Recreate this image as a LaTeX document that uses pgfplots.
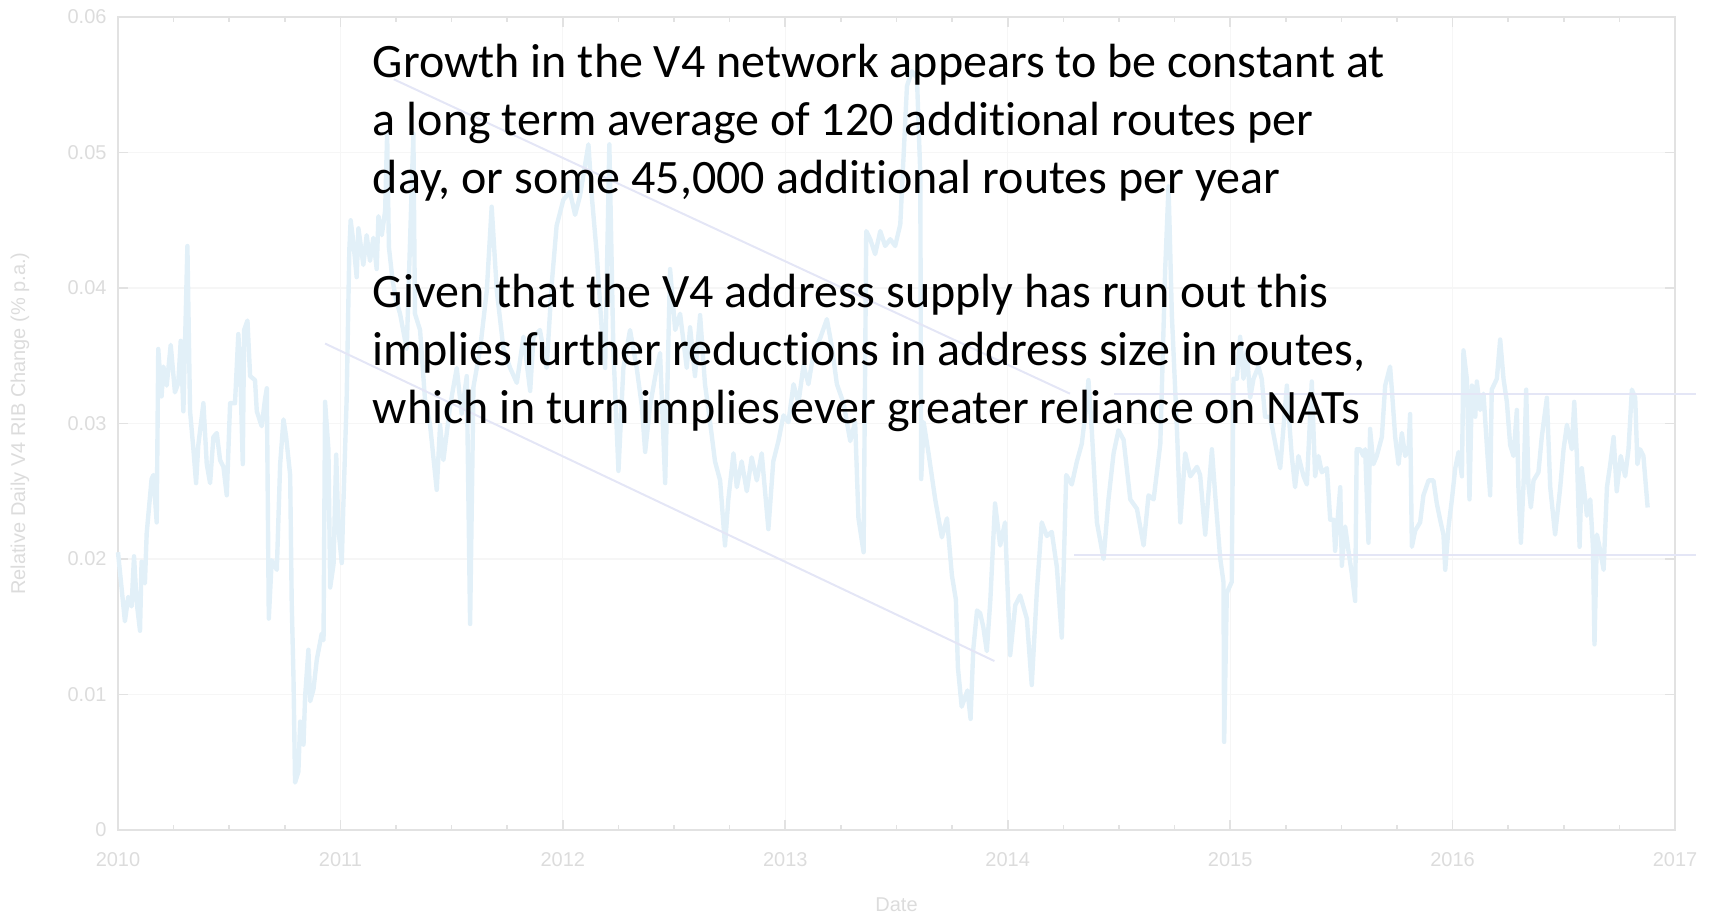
\documentclass[border=0pt]{standalone}
\usepackage{pgfplots}
\pgfplotsset{compat=1.18}
\usepackage{fontspec}
\setmainfont{Liberation Sans}
\newfontfamily\calibri[Ligatures=NoCommon]{Carlito}
\definecolor{axisgray}{RGB}{226,226,226}
\definecolor{labelgray}{RGB}{220,220,220}
\definecolor{seriesblue}{RGB}{226,240,248}
\definecolor{trendlav}{RGB}{228,230,246}
\definecolor{gridgray}{RGB}{246,246,246}

\pgfplotstableread{
x y
2010.000 0.0205
2010.031 0.0154
2010.046 0.0172
2010.061 0.0165
2010.072 0.0202
2010.084 0.0168
2010.099 0.0147
2010.106 0.0198
2010.121 0.0182
2010.129 0.0219
2010.151 0.0259
2010.159 0.0262
2010.174 0.0227
2010.181 0.0355
2010.196 0.0320
2010.204 0.0342
2010.219 0.0328
2010.237 0.0358
2010.256 0.0323
2010.271 0.0330
2010.282 0.0361
2010.294 0.0309
2010.312 0.0431
2010.324 0.0309
2010.339 0.0281
2010.351 0.0256
2010.361 0.0284
2010.384 0.0315
2010.399 0.0270
2010.414 0.0256
2010.429 0.0290
2010.444 0.0293
2010.459 0.0273
2010.474 0.0268
2010.489 0.0247
2010.504 0.0315
2010.526 0.0315
2010.541 0.0366
2010.549 0.0343
2010.561 0.0270
2010.567 0.0369
2010.582 0.0376
2010.594 0.0335
2010.616 0.0332
2010.624 0.0309
2010.646 0.0298
2010.661 0.0318
2010.669 0.0326
2010.678 0.0156
2010.691 0.0199
2010.714 0.0192
2010.729 0.0270
2010.744 0.0303
2010.756 0.0290
2010.774 0.0262
2010.781 0.0168
2010.789 0.0112
2010.796 0.0035
2010.811 0.0043
2010.819 0.0080
2010.834 0.0063
2010.841 0.0098
2010.856 0.0133
2010.864 0.0095
2010.879 0.0104
2010.894 0.0126
2010.916 0.0145
2010.924 0.0140
2010.931 0.0316
2010.946 0.0281
2010.954 0.0179
2010.969 0.0196
2010.981 0.0277
2010.991 0.0222
2011.006 0.0197
2011.013 0.0239
2011.028 0.0318
2011.040 0.0428
2011.046 0.0450
2011.058 0.0434
2011.073 0.0408
2011.081 0.0444
2011.103 0.0417
2011.118 0.0439
2011.133 0.0420
2011.148 0.0437
2011.163 0.0414
2011.171 0.0453
2011.186 0.0439
2011.201 0.0457
2011.210 0.0514
2011.218 0.0430
2011.235 0.0405
2011.252 0.0390
2011.268 0.0381
2011.298 0.0355
2011.328 0.0514
2011.335 0.0381
2011.358 0.0369
2011.380 0.0318
2011.403 0.0299
2011.433 0.0251
2011.448 0.0299
2011.463 0.0273
2011.493 0.0313
2011.523 0.0341
2011.545 0.0307
2011.568 0.0335
2011.583 0.0152
2011.598 0.0327
2011.628 0.0355
2011.658 0.0398
2011.680 0.0460
2011.703 0.0398
2011.733 0.0355
2011.763 0.0341
2011.793 0.0330
2011.823 0.0364
2011.853 0.0324
2011.868 0.0364
2011.897 0.0369
2011.927 0.0341
2011.950 0.0403
2011.972 0.0446
2012.002 0.0465
2012.032 0.0471
2012.055 0.0454
2012.077 0.0468
2012.100 0.0491
2012.115 0.0506
2012.130 0.0468
2012.152 0.0426
2012.175 0.0369
2012.190 0.0341
2012.209 0.0506
2012.227 0.0355
2012.250 0.0265
2012.272 0.0341
2012.302 0.0369
2012.332 0.0341
2012.355 0.0313
2012.370 0.0279
2012.392 0.0313
2012.422 0.0341
2012.437 0.0352
2012.460 0.0256
2012.482 0.0414
2012.505 0.0369
2012.527 0.0381
2012.557 0.0341
2012.572 0.0371
2012.594 0.0335
2012.617 0.0380
2012.639 0.0329
2012.662 0.0301
2012.684 0.0272
2012.707 0.0258
2012.729 0.0210
2012.744 0.0244
2012.767 0.0278
2012.782 0.0253
2012.804 0.0272
2012.827 0.0250
2012.849 0.0275
2012.872 0.0258
2012.894 0.0278
2012.924 0.0222
2012.946 0.0272
2012.969 0.0287
2012.992 0.0306
2013.014 0.0301
2013.037 0.0329
2013.059 0.0315
2013.082 0.0343
2013.104 0.0329
2013.127 0.0352
2013.157 0.0363
2013.187 0.0377
2013.209 0.0357
2013.232 0.0329
2013.262 0.0315
2013.292 0.0287
2013.314 0.0301
2013.329 0.0230
2013.352 0.0205
2013.364 0.0442
2013.382 0.0436
2013.404 0.0425
2013.427 0.0442
2013.449 0.0431
2013.472 0.0436
2013.494 0.0431
2013.517 0.0447
2013.532 0.0498
2013.547 0.0549
2013.569 0.0560
2013.592 0.0555
2013.607 0.0484
2013.611 0.0259
2013.622 0.0301
2013.644 0.0278
2013.674 0.0244
2013.704 0.0216
2013.727 0.0230
2013.749 0.0188
2013.767 0.0170
2013.776 0.0120
2013.793 0.0091
2013.819 0.0103
2013.833 0.0082
2013.845 0.0133
2013.862 0.0162
2013.876 0.0160
2013.890 0.0150
2013.906 0.0132
2013.922 0.0170
2013.943 0.0241
2013.966 0.0210
2013.988 0.0227
2014.011 0.0129
2014.034 0.0166
2014.056 0.0173
2014.086 0.0156
2014.108 0.0107
2014.131 0.0176
2014.153 0.0227
2014.176 0.0217
2014.198 0.0220
2014.221 0.0194
2014.243 0.0142
2014.263 0.0262
2014.288 0.0255
2014.311 0.0272
2014.333 0.0285
2014.353 0.0313
2014.363 0.0332
2014.378 0.0295
2014.401 0.0227
2014.431 0.0200
2014.453 0.0244
2014.476 0.0278
2014.498 0.0295
2014.521 0.0288
2014.551 0.0244
2014.581 0.0237
2014.611 0.0210
2014.633 0.0247
2014.656 0.0244
2014.686 0.0285
2014.708 0.0414
2014.723 0.0475
2014.738 0.0380
2014.761 0.0295
2014.776 0.0227
2014.798 0.0278
2014.821 0.0261
2014.851 0.0268
2014.865 0.0262
2014.888 0.0218
2014.918 0.0281
2014.933 0.0247
2014.955 0.0201
2014.970 0.0183
2014.973 0.0065
2014.985 0.0175
2015.007 0.0183
2015.015 0.0333
2015.030 0.0333
2015.045 0.0364
2015.060 0.0333
2015.075 0.0354
2015.090 0.0319
2015.105 0.0333
2015.127 0.0342
2015.142 0.0333
2015.157 0.0305
2015.180 0.0305
2015.210 0.0279
2015.225 0.0267
2015.255 0.0328
2015.262 0.0310
2015.277 0.0276
2015.292 0.0253
2015.307 0.0276
2015.330 0.0261
2015.345 0.0255
2015.367 0.0331
2015.382 0.0261
2015.397 0.0276
2015.412 0.0264
2015.435 0.0267
2015.450 0.0229
2015.465 0.0229
2015.472 0.0206
2015.495 0.0253
2015.502 0.0195
2015.517 0.0224
2015.532 0.0206
2015.547 0.0189
2015.562 0.0169
2015.569 0.0281
2015.584 0.0281
2015.599 0.0276
2015.607 0.0281
2015.622 0.0212
2015.629 0.0296
2015.644 0.0270
2015.659 0.0276
2015.682 0.0290
2015.697 0.0328
2015.719 0.0342
2015.727 0.0325
2015.742 0.0290
2015.757 0.0270
2015.772 0.0293
2015.787 0.0276
2015.802 0.0281
2015.809 0.0307
2015.817 0.0209
2015.832 0.0221
2015.854 0.0227
2015.869 0.0247
2015.892 0.0258
2015.914 0.0258
2015.929 0.0241
2015.944 0.0229
2015.959 0.0218
2015.967 0.0192
2015.982 0.0224
2015.997 0.0244
2016.012 0.0267
2016.027 0.0279
2016.042 0.0261
2016.049 0.0354
2016.064 0.0333
2016.076 0.0244
2016.087 0.0328
2016.102 0.0305
2016.109 0.0331
2016.124 0.0310
2016.139 0.0322
2016.154 0.0284
2016.169 0.0247
2016.176 0.0325
2016.199 0.0333
2016.214 0.0362
2016.229 0.0333
2016.244 0.0316
2016.259 0.0284
2016.274 0.0276
2016.289 0.0310
2016.296 0.0253
2016.307 0.0212
2016.319 0.0255
2016.331 0.0325
2016.341 0.0255
2016.352 0.0238
2016.364 0.0258
2016.386 0.0264
2016.401 0.0290
2016.424 0.0319
2016.439 0.0253
2016.461 0.0218
2016.484 0.0253
2016.499 0.0281
2016.514 0.0299
2016.536 0.0281
2016.547 0.0316
2016.559 0.0276
2016.571 0.0209
2016.581 0.0267
2016.604 0.0232
2016.619 0.0244
2016.631 0.0209
2016.638 0.0137
2016.649 0.0218
2016.664 0.0206
2016.679 0.0192
2016.694 0.0253
2016.709 0.0270
2016.724 0.0290
2016.738 0.0250
2016.756 0.0276
2016.776 0.0261
2016.791 0.0281
2016.806 0.0325
2016.821 0.0319
2016.831 0.0270
2016.843 0.0281
2016.858 0.0276
2016.877 0.0238
}\ribdata

\begin{document}
\begin{tikzpicture}
\begin{axis}[
  scale only axis, width=778.5pt, height=406.5pt,
  xmin=2010, xmax=2017, ymin=0, ymax=0.06,
  scaled y ticks=false, scaled x ticks=false,
  xtick={2010,2011,2012,2013,2014,2015,2016,2017},
  xticklabels={2010,2011,2012,2013,2014,2015,2016,2017},
  minor x tick num=3,
  ytick={0,0.01,0.02,0.03,0.04,0.05,0.06},
  yticklabels={0,0.01,0.02,0.03,0.04,0.05,0.06},
  tick align=inside,
  major tick length=5pt, minor tick length=2.5pt,
  axis line style={axisgray, line width=1pt},
  tick style={axisgray, line width=0.8pt},
  grid=major, major grid style={gridgray, line width=0.6pt},
  ticklabel style={font=\fontsize{10}{12}\selectfont, text=labelgray},
  xticklabel style={yshift=-7.6pt},
  yticklabel style={xshift=-2.2pt},
  xlabel={Date}, ylabel={Relative Daily V4 RIB Change (\% p.a.)},
  label style={font=\fontsize{10}{12}\selectfont, text=labelgray, inner sep=0pt},
  xlabel style={at={(axis description cs:0.5,-0.0923)}, anchor=center},
  ylabel style={at={(axis description cs:-0.0630,0.5)}, anchor=center},
  clip=false,
]
\addplot[seriesblue, line width=2.2pt, line join=round, no markers] table[x=x, y=y] {\ribdata};
\addplot[trendlav, line width=1pt, no markers] coordinates {(2011.24,0.0554) (2014.28,0.0322)};
\addplot[trendlav, line width=1pt, no markers] coordinates {(2010.931,0.0359) (2013.94,0.01247)};
\addplot[trendlav, line width=1pt, no markers] coordinates {(2014.48,0.0322) (2017.094,0.0322)};
\addplot[trendlav, line width=1pt, no markers] coordinates {(2014.30,0.0203) (2017.094,0.0203)};
\begin{scope}[every node/.style={anchor=base west, inner sep=0pt, font=\calibri\fontsize{24}{28.75}\selectfont, text=black}]
\node at (rel axis cs:0.1635,0.925) {Growth in the V4 network appears to be constant at};
\node at (rel axis cs:0.1635,0.8542) {a long term average of 120 additional routes per};
\node at (rel axis cs:0.1635,0.7835) {day, or some 45,000 additional routes per year};
\node at (rel axis cs:0.1635,0.6421) {Given that the V4 address supply has run out this};
\node at (rel axis cs:0.1635,0.5713) {implies further reductions in address size in routes,};
\node at (rel axis cs:0.1635,0.5006) {which in turn implies ever greater reliance on NATs};
\end{scope}
\end{axis}
\path ([shift={(-59pt,-42pt)}]current axis.south west) rectangle ([shift={(19pt,8.5pt)}]current axis.north east);
\end{tikzpicture}
\end{document}
